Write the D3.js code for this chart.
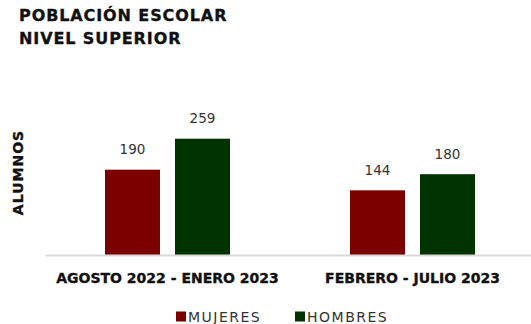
<!DOCTYPE html>
<html>
<head>
<meta charset="utf-8">
<script src="https://cdn.jsdelivr.net/npm/d3@7"></script>
<style>
  html, body { margin: 0; padding: 0; background: #fff; }
  svg { display: block; font-family: "DejaVu Sans", sans-serif; }
  .heavy { stroke: #111; stroke-width: 0.35px; }
</style>
</head>
<body>
<div id="chart"></div>
<script>
// Student population, higher education level, by semester
const periods = ["AGOSTO 2022 - ENERO 2023", "FEBRERO - JULIO 2023"];
const seriesNames = ["MUJERES", "HOMBRES"];
const mujeres = [190, 144];
const hombres = [259, 180];
const seriesColors = ["#7b0000", "#003300"];

const width = 531, height = 324;
const svg = d3.select("#chart").append("svg")
  .attr("width", width).attr("height", height);

const rows = periods.map((p, i) => ({ period: p, values: [mujeres[i], hombres[i]] }));

const x0 = d3.scaleBand().domain(periods).range([45, 535]).paddingInner(0).paddingOuter(0);
const x1 = d3.scaleBand().domain(seriesNames).range([0, x0.bandwidth()])
  .paddingInner(15 / 70).paddingOuter(60 / 70);
const y = d3.scaleLinear().domain([0, 300]).range([255, 120.3]);

// Title
const title = svg.append("text").attr("class", "heavy").attr("x", 19).attr("y", 21)
  .attr("font-size", 16).attr("font-weight", "bold").attr("fill", "#111")
  .attr("letter-spacing", 0.9);
title.append("tspan").attr("x", 19).text("POBLACIÓN ESCOLAR");
title.append("tspan").attr("x", 19).attr("y", 44).text("NIVEL SUPERIOR");

// Y axis title
svg.append("text").attr("class", "heavy")
  .attr("transform", "translate(22.5,172.5) rotate(-90)")
  .attr("text-anchor", "middle")
  .attr("font-size", 14).attr("font-weight", "bold").attr("fill", "#111")
  .attr("letter-spacing", 1)
  .text("ALUMNOS");

// Bars
const groups = svg.append("g").selectAll("g").data(rows).join("g")
  .attr("transform", d => `translate(${x0(d.period)},0)`);

groups.selectAll("rect")
  .data(d => d.values.map((v, j) => ({ key: seriesNames[j], value: v, color: seriesColors[j] })))
  .join("rect")
  .attr("x", d => x1(d.key))
  .attr("y", d => y(d.value))
  .attr("width", x1.bandwidth())
  .attr("height", d => y(0) - y(d.value))
  .attr("fill", d => d.color);

groups.selectAll("text.value")
  .data(d => d.values.map((v, j) => ({ key: seriesNames[j], value: v })))
  .join("text")
  .attr("class", "value")
  .attr("x", d => x1(d.key) + x1.bandwidth() / 2)
  .attr("y", d => y(d.value) - 15.5)
  .attr("text-anchor", "middle")
  .attr("font-size", 13.5).attr("fill", "#333")
  .text(d => d.value);

// X axis
const xAxis = svg.append("g").attr("transform", `translate(0,${y(0)})`)
  .call(d3.axisBottom(x0).tickSize(0).tickPadding(18));
xAxis.select(".domain").attr("stroke", "#d9d9d9").attr("stroke-width", 2);
xAxis.selectAll(".tick text")
  .attr("class", "heavy")
  .attr("font-family", "DejaVu Sans, sans-serif")
  .attr("font-size", 14).attr("font-weight", "bold").attr("fill", "#111");

// Legend
const legendX = [176, 295];
const legend = svg.append("g").selectAll("g").data(seriesNames).join("g")
  .attr("transform", (d, i) => `translate(${legendX[i]},311.5)`);
legend.append("rect").attr("width", 10).attr("height", 10)
  .attr("fill", (d, i) => seriesColors[i]);
legend.append("text").attr("x", 12).attr("y", 10)
  .attr("font-size", 14).attr("fill", "#333").attr("letter-spacing", 1.5)
  .text(d => d);
</script>
</body>
</html>
